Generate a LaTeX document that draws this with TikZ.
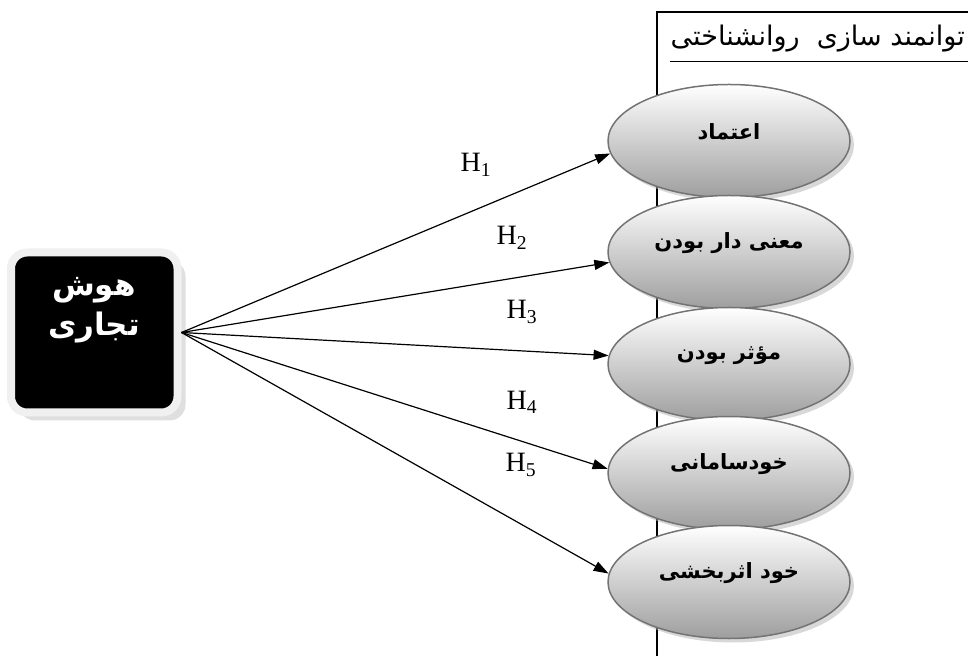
\documentclass[tikz,border=0pt]{standalone}
\usepackage{fontspec}
\setmainfont{Liberation Serif}
\newfontfamily\fa[Script=Arabic]{DejaVu Sans}
\TeXXeTstate=1
\usetikzlibrary{arrows.meta,shapes.geometric,shadows}
\begin{document}
\begin{tikzpicture}[x=1pt,y=1pt,
  oval/.style={ellipse, minimum width=242pt, minimum height=113pt,
    draw=black!55, line width=1.5pt, top color=white, bottom color=black!38,
    drop shadow={shadow xshift=4pt,shadow yshift=-4pt,fill=black!30}},
  otext/.style={font=\fa\bfseries\fontsize{21}{25}\selectfont},
  hbox/.style={rectangle, rounded corners=16pt, minimum width=166.5pt,
    minimum height=160pt, fill=black, draw=black!6, line width=8pt,
    drop shadow={shadow xshift=8pt,shadow yshift=-8pt,fill=black!25}},
  conn/.style={line width=1.2pt, -{Triangle[length=15pt,width=10pt]}},
  hlab/.style={font=\fontsize{28}{32}\selectfont}
]
\useasboundingbox (0,0) rectangle (968,656);
\draw[line width=1.8pt] (657,0) -- (657,644) -- (968,644);
\draw[line width=1pt] (670,594) -- (968,594);
\node[anchor=east, inner sep=0pt, font=\fa\fontsize{27}{31}\selectfont] (title) at (965,617) {\beginR توانمند سازی \ روانشناختی\endR};

\node[oval] (e1) at (729,515) {};
\node[oval] (e2) at (729,404) {};
\node[oval] (e3) at (729,292) {};
\node[oval] (e4) at (729,183) {};
\node[oval] (e5) at (729,74) {};
\node[otext] (t1) at ([yshift=9pt]e1.center) {\beginR اعتماد\endR};
\node[otext] (t2) at ([yshift=9pt]e2.center) {\beginR معنی دار بودن\endR};
\node[otext] (t3) at ([yshift=8pt]e3.center) {\beginR مؤثر بودن\endR};
\node[otext] (t4) at ([yshift=9pt]e4.center) {\beginR خودسامانی\endR};
\node[otext] (t5) at ([yshift=9pt]e5.center) {\beginR خود اثربخشی\endR};

\node[hbox] (hb) at (94.25,323.5) {};
\node[font=\fa\bfseries\fontsize{31}{40}\selectfont, text=white, align=center] (ht) at (94,346) {\beginR هوش\endR\\\beginR تجاری\endR};

\draw[conn] (hb.east) -- (e1.186);
\draw[conn] (hb.east) -- (e2.185);
\draw[conn] (hb.east) -- (e3.176);
\draw[conn] (hb.east) -- (e4.178.5);
\draw[conn] (hb.east) -- (e5.176);

\node[hlab] (h1) at (476,491) {H\textsubscript{1}};
\node[hlab] (h2) at (512,418) {H\textsubscript{2}};
\node[hlab] (h3) at (522,344) {H\textsubscript{3}};
\node[hlab] (h4) at (522,254) {H\textsubscript{4}};
\node[hlab] (h5) at (521,191) {H\textsubscript{5}};
\end{tikzpicture}
\end{document}
